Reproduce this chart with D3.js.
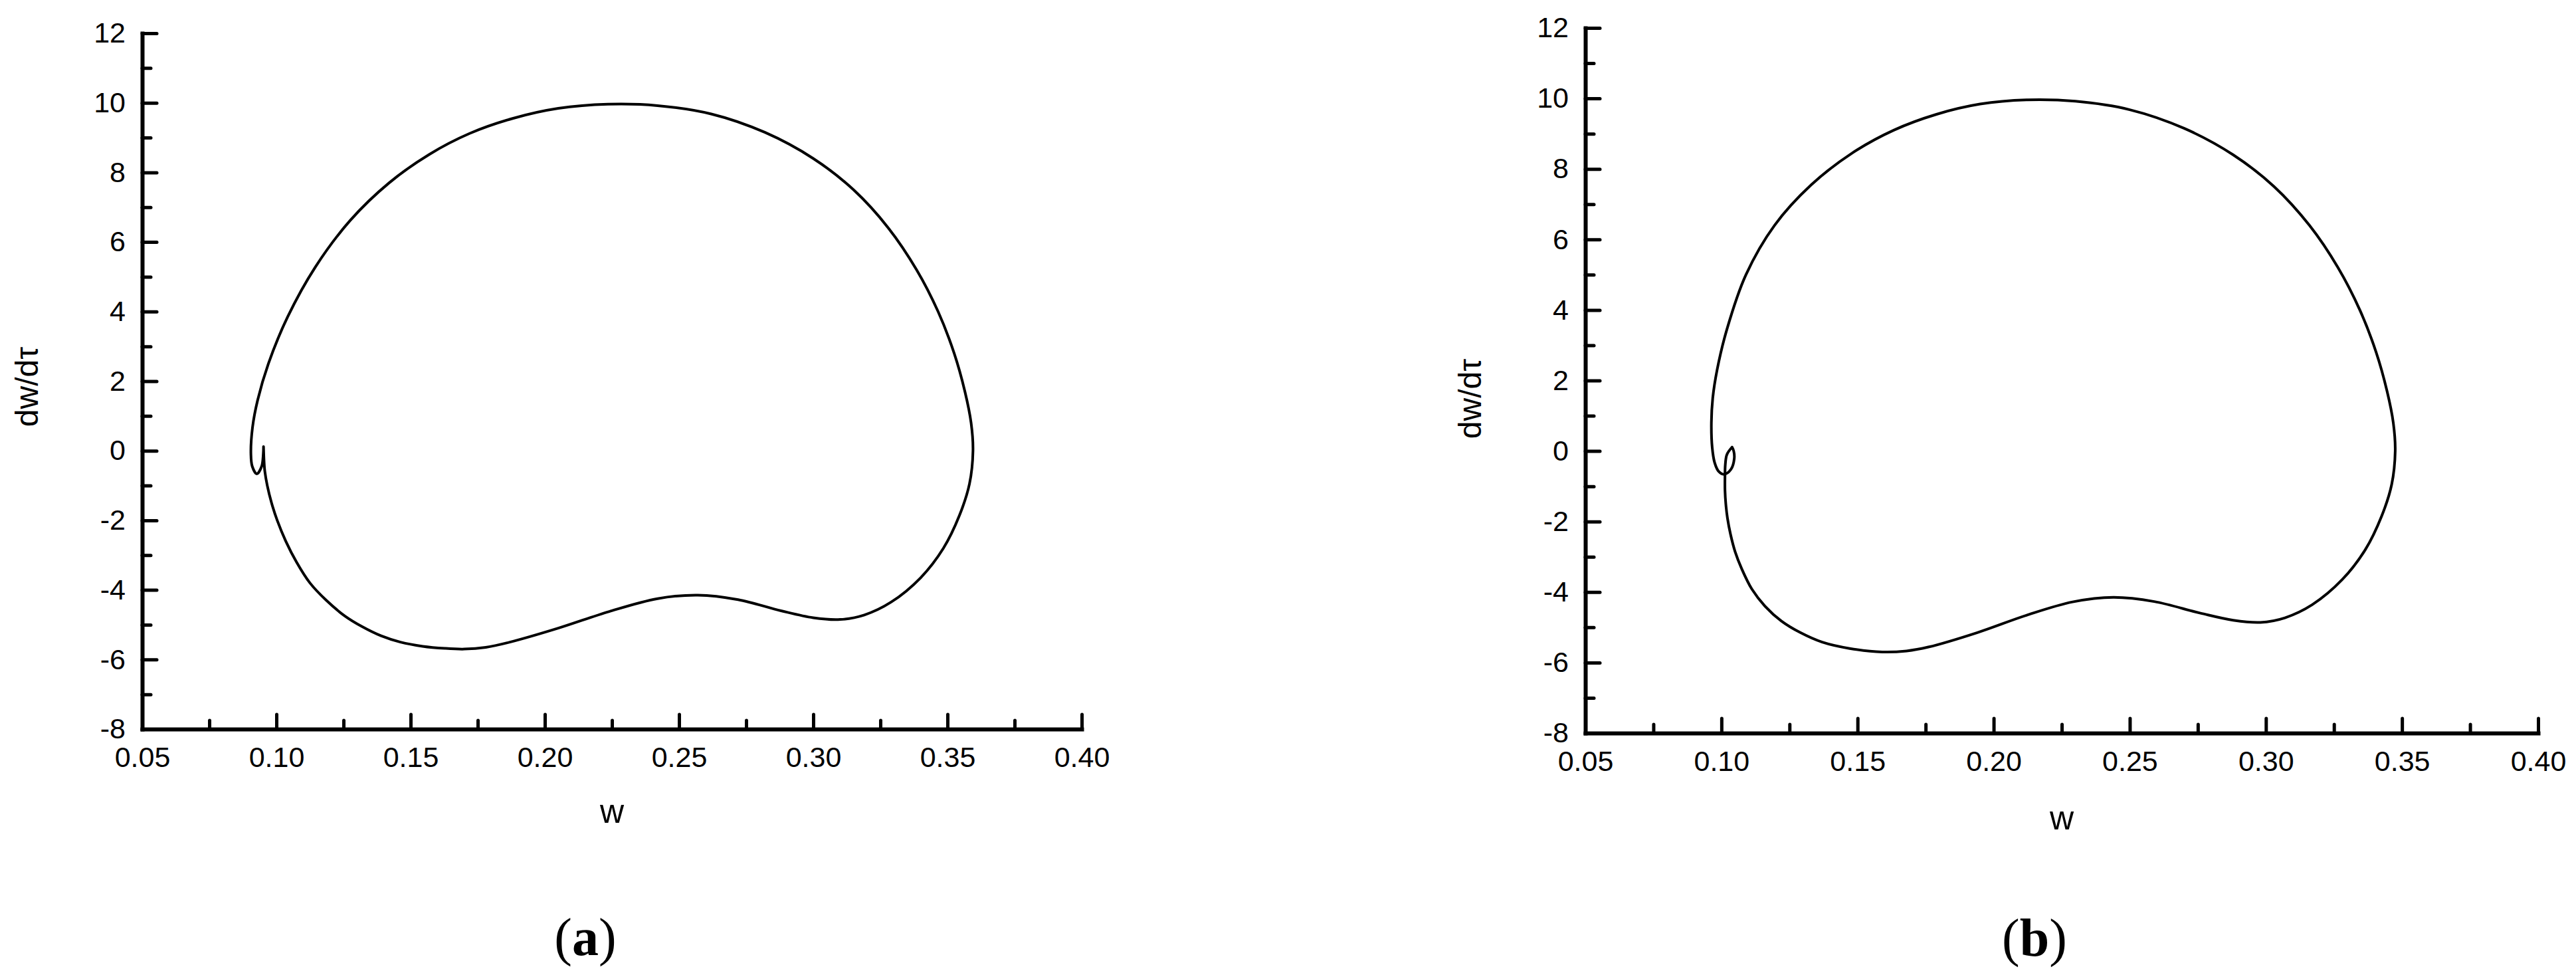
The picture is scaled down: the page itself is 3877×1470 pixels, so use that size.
<!DOCTYPE html>
<html>
<head>
<meta charset="utf-8">
<script src="https://cdn.jsdelivr.net/npm/d3@7"></script>
<style>
  html, body { margin: 0; padding: 0; background: #fff; }
  svg { display: block; }
</style>
</head>
<body>
<svg id="chart" width="3877" height="1470"></svg>
<script>
// ---------- data ----------
const xMajorTicks = [0.05, 0.10, 0.15, 0.20, 0.25, 0.30, 0.35, 0.40];
const xMinorTicks = [0.075, 0.125, 0.175, 0.225, 0.275, 0.325, 0.375];
const yMajorTicks = [-8, -6, -4, -2, 0, 2, 4, 6, 8, 10, 12];
const yMinorTicks = [-7, -5, -3, -1, 1, 3, 5, 7, 9, 11];
const xLabel = "w";
const yLabel = "dw/dτ";
const panelLabels = ["a", "b"];

// panel (a): phase trajectory [w, dw/dτ]
const curveA = [
  [0.0952, 0.12], [0.0954, -0.30], [0.0957, -0.60], [0.0966, -1.00], [0.0982, -1.50],
  [0.1003, -2.00], [0.1035, -2.60], [0.1075, -3.20], [0.1125, -3.80], [0.1186, -4.30],
  [0.1255, -4.75], [0.1318, -5.05], [0.1390, -5.32], [0.1462, -5.50], [0.1545, -5.62],
  [0.1628, -5.68], [0.1700, -5.70], [0.1780, -5.65], [0.1870, -5.50], [0.2050, -5.10],
  [0.2240, -4.62], [0.2420, -4.25], [0.2570, -4.15], [0.2720, -4.28], [0.2880, -4.60],
  [0.3000, -4.80], [0.3100, -4.85], [0.3190, -4.72], [0.3290, -4.35], [0.3400, -3.65],
  [0.3485, -2.80], [0.3545, -1.85], [0.3582, -0.95], [0.3595, 0.00], [0.3588, 0.80],
  [0.3565, 1.70], [0.3525, 2.80], [0.3465, 4.00], [0.3385, 5.20], [0.3280, 6.40],
  [0.3150, 7.50], [0.3000, 8.40], [0.2820, 9.15], [0.2620, 9.68], [0.2420, 9.92],
  [0.2235, 9.96], [0.2050, 9.84], [0.1880, 9.55], [0.1720, 9.12], [0.1570, 8.52],
  [0.1420, 7.70], [0.1275, 6.62], [0.1145, 5.28], [0.1042, 3.85], [0.0970, 2.50],
  [0.0930, 1.45], [0.0911, 0.67], [0.0905, -0.09], [0.0910, -0.45], [0.0927, -0.665],
  [0.0945, -0.45], [0.0951, -0.10], [0.0952, 0.12]
];

// panel (b): phase trajectory [w, dw/dτ]
const curveB = [
  [0.1039, 0.11], [0.1020, -0.10], [0.1014, -0.40], [0.1013, -0.70], [0.1013, -1.12],
  [0.1016, -1.50], [0.1022, -1.90], [0.1033, -2.35], [0.1050, -2.85], [0.1075, -3.35],
  [0.1112, -3.92], [0.1160, -4.40], [0.1220, -4.82], [0.1290, -5.15], [0.1370, -5.42],
  [0.1471, -5.60], [0.1591, -5.70], [0.1680, -5.67], [0.1760, -5.56], [0.1940, -5.15],
  [0.2120, -4.66], [0.2290, -4.28], [0.2440, -4.15], [0.2590, -4.27], [0.2760, -4.60],
  [0.2880, -4.80], [0.2980, -4.86], [0.3070, -4.73], [0.3170, -4.36], [0.3280, -3.65],
  [0.3365, -2.80], [0.3425, -1.85], [0.3462, -0.95], [0.3475, 0.00], [0.3468, 0.80],
  [0.3445, 1.70], [0.3405, 2.80], [0.3345, 4.00], [0.3265, 5.20], [0.3160, 6.40],
  [0.3030, 7.50], [0.2880, 8.40], [0.2700, 9.15], [0.2500, 9.68], [0.2300, 9.92],
  [0.2123, 9.96], [0.1950, 9.84], [0.1790, 9.55], [0.1633, 9.10], [0.1480, 8.45],
  [0.1330, 7.55], [0.1195, 6.40], [0.1090, 5.00], [0.1020, 3.45], [0.0984, 2.30],
  [0.0968, 1.50], [0.0963, 0.80], [0.0966, 0.10], [0.0975, -0.33], [0.0990, -0.58],
  [0.1010, -0.66], [0.1035, -0.52], [0.1047, -0.22], [0.1045, 0.00], [0.1039, 0.11]
];

// ---------- layout ----------
const panels = [
  { data: curveA, label: panelLabels[0], x0: 214, x1: 1628, yTop: 50, yBot: 1097,
    yLabX: 40, yLabY: 582, xLabY: 1238, panX: 881, panY: 1437 },
  { data: curveB, label: panelLabels[1], x0: 2386, x1: 3820, yTop: 42, yBot: 1103,
    yLabX: 2212, yLabY: 600, xLabY: 1248, panX: 3062, panY: 1438 }
];

const svg = d3.select("#chart");
svg.append("rect").attr("width", 3877).attr("height", 1470).attr("fill", "#fff");

const tickFont = "'Liberation Sans', Arial, Helvetica, sans-serif";

panels.forEach(p => {
  const x = d3.scaleLinear().domain([0.05, 0.40]).range([p.x0, p.x1]);
  const y = d3.scaleLinear().domain([-8, 12]).range([p.yBot, p.yTop]);
  const g = svg.append("g");

  // minor ticks
  g.append("g").attr("transform", `translate(0,${p.yBot})`)
    .call(d3.axisBottom(x).tickValues(xMinorTicks).tickSize(-13).tickFormat(""))
    .call(s => s.select(".domain").remove());
  g.append("g").attr("transform", `translate(${p.x0},0)`)
    .call(d3.axisLeft(y).tickValues(yMinorTicks).tickSize(-13).tickFormat(""))
    .call(s => s.select(".domain").remove());

  // major x axis
  const gx = g.append("g").attr("transform", `translate(0,${p.yBot})`)
    .call(d3.axisBottom(x).tickValues(xMajorTicks).tickSize(-22).tickSizeOuter(0)
      .tickPadding(26).tickFormat(d3.format(".2f")));
  // major y axis
  const gy = g.append("g").attr("transform", `translate(${p.x0},0)`)
    .call(d3.axisLeft(y).tickValues(yMajorTicks).tickSize(-22).tickSizeOuter(0)
      .tickPadding(25).tickFormat(d => String(d)));

  g.selectAll(".tick line").attr("stroke", "#000").attr("stroke-width", 5)
    .attr("stroke-linecap", "round");
  [gx, gy].forEach(a => {
    a.select(".domain").attr("stroke", "#000").attr("stroke-width", 6)
      .attr("stroke-linecap", "square");
    a.selectAll("text").attr("font-family", tickFont).attr("font-size", 43)
      .attr("fill", "#000");
  });

  // curve
  const line = d3.line().x(d => x(d[0])).y(d => y(d[1]))
    .curve(d3.curveCatmullRom.alpha(0.5));
  g.append("path").datum(p.data).attr("d", line)
    .attr("fill", "none").attr("stroke", "#000").attr("stroke-width", 4)
    .attr("stroke-linejoin", "round").attr("stroke-linecap", "round");

  // axis labels
  g.append("text").attr("x", (p.x0 + p.x1) / 2).attr("y", p.xLabY)
    .attr("text-anchor", "middle").attr("font-family", tickFont).attr("font-size", 50)
    .text(xLabel);
  g.append("text").attr("transform", `translate(${p.yLabX},${p.yLabY}) rotate(-90)`)
    .attr("text-anchor", "middle").attr("dy", "0.35em")
    .attr("font-family", tickFont).attr("font-size", 48).text(yLabel);

  // panel label
  const t = g.append("text").attr("x", p.panX).attr("y", p.panY)
    .attr("text-anchor", "middle").attr("font-family", "'Liberation Serif', 'Times New Roman', serif")
    .attr("font-size", 80);
  t.append("tspan").text("(");
  t.append("tspan").attr("font-weight", "bold").text(p.label);
  t.append("tspan").text(")");
});
</script>
</body>
</html>
